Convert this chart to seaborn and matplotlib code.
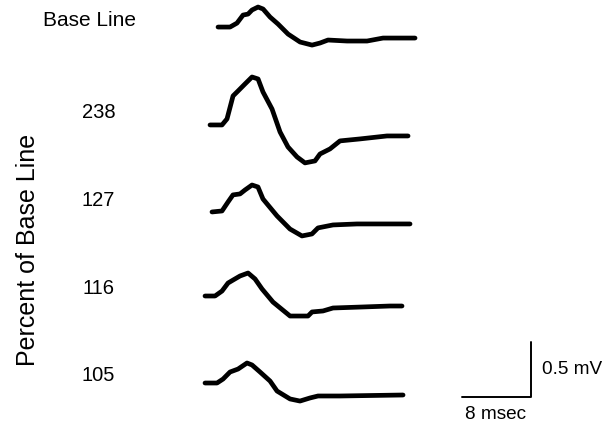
import numpy as np
import pandas as pd
import matplotlib
matplotlib.use('Agg')
import matplotlib.pyplot as plt
import seaborn as sns

# Evoked responses, time in msec from trace start, voltage in mV from trace baseline
labels = ["Base Line", "238", "127", "116", "105"]

t_base = [0, 1.39, 2.2, 2.9, 3.48, 3.94, 4.64, 5.22, 6.03, 6.96, 8.12, 9.51,
          10.9, 11.83, 12.75, 14.96, 17.28, 19.13, 22.84]
v_base = [0, 0, 0.036, 0.109, 0.118, 0.155, 0.182, 0.164, 0.091, 0.027, -0.064,
          -0.136, -0.164, -0.145, -0.118, -0.127, -0.127, -0.1, -0.1]

t_238 = [0, 1.39, 1.97, 2.67, 3.25, 4.06, 4.87, 5.57, 6.14, 7.19, 8.12, 9.04,
         10.09, 11.01, 12.17, 12.75, 13.91, 15.07, 17.39, 20.52, 22.96]
v_238 = [0, 0, 0.055, 0.264, 0.309, 0.373, 0.436, 0.418, 0.3, 0.145, -0.064,
         -0.2, -0.291, -0.345, -0.327, -0.264, -0.218, -0.145, -0.127, -0.1, -0.1]

t_127 = [0, 1.16, 1.86, 2.43, 3.25, 3.83, 4.64, 5.33, 5.91, 7.54, 9.04, 10.43,
         11.59, 12.29, 14.03, 16.81, 22.96]
v_127 = [0, 0.009, 0.091, 0.155, 0.164, 0.2, 0.245, 0.227, 0.118, -0.036,
         -0.155, -0.218, -0.2, -0.145, -0.118, -0.109, -0.109]

t_116 = [0, 1.16, 1.97, 2.67, 3.25, 4.06, 4.99, 5.8, 6.61, 7.88, 9.86, 11.94,
         12.41, 13.68, 14.84, 18.2, 21.45, 22.84]
v_116 = [0, 0, 0.045, 0.118, 0.145, 0.182, 0.209, 0.155, 0.064, -0.055, -0.182,
         -0.182, -0.145, -0.136, -0.109, -0.1, -0.091, -0.091]

t_105 = [0, 1.39, 2.09, 2.9, 3.83, 4.87, 5.45, 6.38, 7.54, 8.35, 9.86, 11.01,
         12.17, 13.1, 15.65, 22.96]
v_105 = [0, 0, 0.036, 0.1, 0.127, 0.182, 0.164, 0.1, 0.018, -0.073, -0.145,
         -0.164, -0.136, -0.118, -0.118, -0.109]

scale_ms = 8
scale_mv = 0.5

# layout (msec / mV in figure space)
x_start = [25.28, 24.35, 24.58, 23.77, 23.77]
y_base = [-0.255, -1.145, -1.936, -2.7, -3.491]


def main():
    sns.set_style("white")
    plt.rcParams['font.family'] = ['Liberation Sans', 'DejaVu Sans']
    plt.rcParams['text.color'] = 'black'

    fig = plt.figure(figsize=(6.1, 4.27), dpi=100)
    ax = fig.add_axes([0, 0, 1, 1])

    traces = [(t_base, v_base), (t_238, v_238), (t_127, v_127),
              (t_116, v_116), (t_105, v_105)]
    for i, (t, v) in enumerate(traces):
        df = pd.DataFrame({"t": np.array(t) + x_start[i],
                           "v": np.array(v) + y_base[i]})
        sns.lineplot(data=df, x="t", y="v", sort=False, estimator=None,
                     color="black", linewidth=3.4, ax=ax,
                     solid_capstyle="round", solid_joinstyle="round")

    # scale bars
    bx, by = 53.57, -3.618
    ax.plot([bx, bx + scale_ms, bx + scale_ms], [by, by, by + scale_mv],
            color="black", linewidth=1.4)

    ax.set_xlim(0, 610 / 8.625)
    ax.set_ylim(-427 / 110, 0)
    ax.axis("off")

    # labels (figure fractions)
    fig.text(89.5 / 610, 1 - 20.5 / 427, labels[0], ha="center", va="center",
             fontsize=15, color="black")
    for lab, ypx in zip(labels[1:], [113, 200, 289, 376]):
        fig.text(98.5 / 610, 1 - ypx / 427, lab, ha="center", va="center",
                 fontsize=14.5, color="black")
    fig.text(28 / 610, 1 - 250 / 427, "Percent of Base Line", rotation=90,
             ha="center", va="center", fontsize=18, color="black")
    fig.text(542 / 610, 1 - 370 / 427, "0.5 mV", ha="left", va="center",
             fontsize=13.7, color="black")
    fig.text(496 / 610, 1 - 415 / 427, "8 msec", ha="center", va="center",
             fontsize=13.7, color="black")

    fig.savefig("out.png", dpi=100)
    plt.close(fig)


if __name__ == "__main__":
    main()
